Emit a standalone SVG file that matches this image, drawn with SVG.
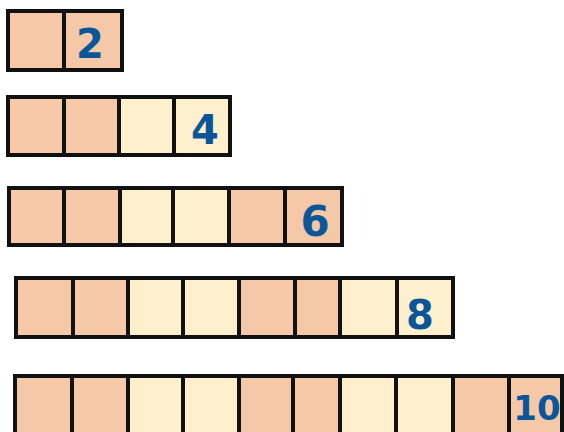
<svg xmlns="http://www.w3.org/2000/svg" width="564" height="432" viewBox="0 0 564 432">
<style>
.p{fill:#F5C8A8;stroke:#111;stroke-width:4}
.c{fill:#FEF0CC;stroke:#111;stroke-width:4}
.n{font-family:"DejaVu Sans",sans-serif;font-weight:bold;fill:#0B5699;text-anchor:middle}
</style>
<rect width="564" height="432" fill="#fff"/>
<g id="row2">
<rect class="p" x="8" y="11" width="56" height="59"/>
<rect class="p" x="64" y="11" width="58" height="59"/>
<text class="n" x="90" y="58" font-size="40">2</text>
</g>
<g id="row4">
<rect class="p" x="8" y="97" width="56" height="58"/>
<rect class="p" x="64" y="97" width="55" height="58"/>
<rect class="c" x="119" y="97" width="55" height="58"/>
<rect class="c" x="174" y="97" width="56" height="58"/>
<text class="n" x="205" y="144" font-size="40">4</text>
</g>
<g id="row6">
<rect class="p" x="9" y="188" width="55" height="57"/>
<rect class="p" x="64" y="188" width="56" height="57"/>
<rect class="c" x="120" y="188" width="53" height="57"/>
<rect class="c" x="173" y="188" width="56" height="57"/>
<rect class="p" x="229" y="188" width="56" height="57"/>
<rect class="p" x="285" y="188" width="57" height="57"/>
<text class="n" x="315" y="236" font-size="42">6</text>
</g>
<g id="row8">
<rect class="p" x="16" y="278" width="57" height="59"/>
<rect class="p" x="73" y="278" width="55" height="59"/>
<rect class="c" x="128" y="278" width="55" height="59"/>
<rect class="c" x="183" y="278" width="56" height="59"/>
<rect class="p" x="239" y="278" width="56" height="59"/>
<rect class="p" x="295" y="278" width="45" height="59"/>
<rect class="c" x="340" y="278" width="57" height="59"/>
<rect class="c" x="397" y="278" width="56" height="59"/>
<text class="n" x="420" y="329" font-size="40">8</text>
</g>
<g id="row10">
<rect class="p" x="15" y="376" width="57" height="58"/>
<rect class="p" x="72" y="376" width="56" height="58"/>
<rect class="c" x="128" y="376" width="55" height="58"/>
<rect class="c" x="183" y="376" width="56" height="58"/>
<rect class="p" x="239" y="376" width="54" height="58"/>
<rect class="p" x="293" y="376" width="47" height="58"/>
<rect class="c" x="340" y="376" width="56" height="58"/>
<rect class="c" x="396" y="376" width="57" height="58"/>
<rect class="p" x="453" y="376" width="56" height="58"/>
<rect class="p" x="509" y="376" width="53" height="58"/>
<text class="n" x="537" y="420" font-size="34">10</text>
</g>
</svg>
